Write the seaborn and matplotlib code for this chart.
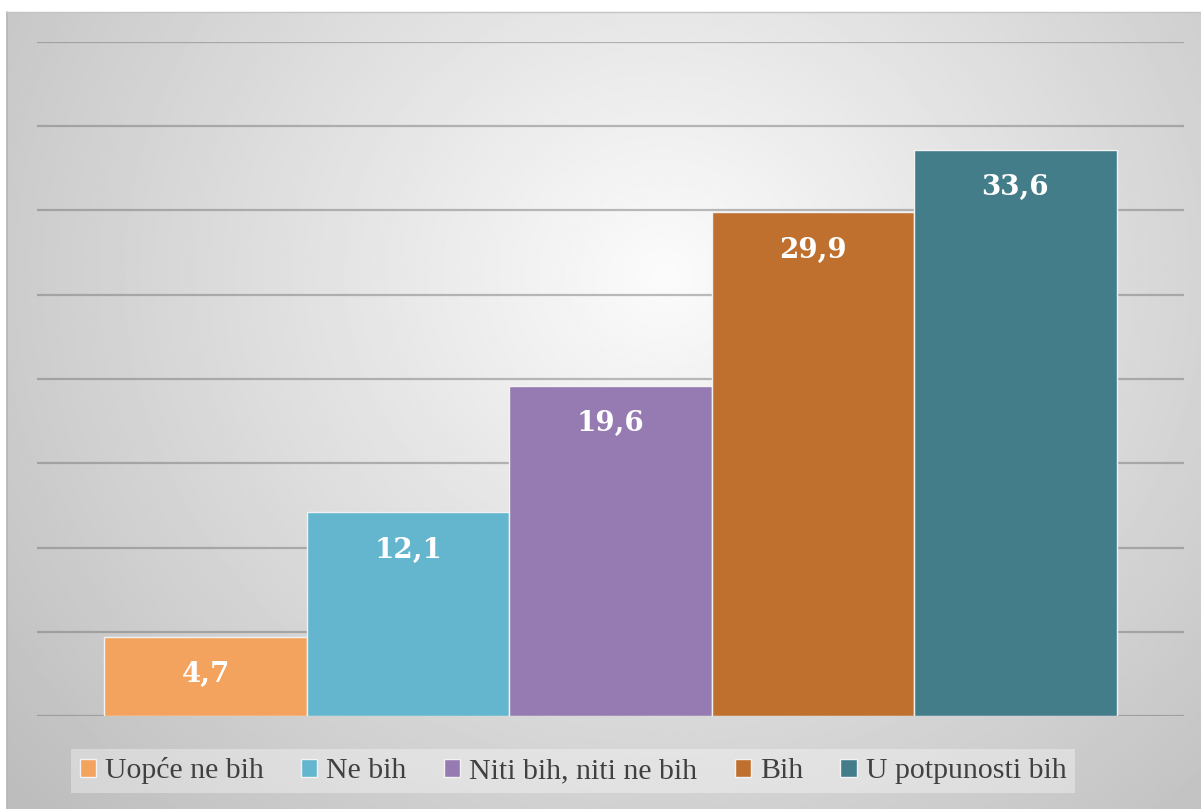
import numpy as np
import pandas as pd
import seaborn as sns
import matplotlib.pyplot as plt
from matplotlib.patches import Patch

# data
categories = ["Uopće ne bih", "Ne bih", "Niti bih, niti ne bih", "Bih", "U potpunosti bih"]
values = [4.7, 12.1, 19.6, 29.9, 33.6]
colors = ["#F4A35F", "#63B6CD", "#957BB1", "#C0702E", "#437D8A"]

df = pd.DataFrame({"cat": categories, "val": values})

sns.set_style("white")
plt.rcParams["font.family"] = ["Liberation Serif", "DejaVu Serif"]

W, H = 1201, 809
fig = plt.figure(figsize=(W / 100, H / 100), dpi=100)

# radial gradient background of the chart area
bg = fig.add_axes([7 / W, 0, (W - 7) / W, (H - 12) / H])
ny, nx = 400, 600
yy, xx = np.mgrid[0:ny, 0:nx]
cx, cy = 0.55 * nx, 0.33 * ny
r = np.sqrt(((xx - cx) / (0.62 * nx)) ** 2 + ((yy - cy) / (0.85 * ny)) ** 2)
grad = np.clip(0.985 - 0.21 * r, 0.74, 1.0)
bg.imshow(grad, cmap="gray", vmin=0, vmax=1, aspect="auto", interpolation="bilinear")
bg.set_axis_off()
fig.add_artist(plt.Line2D([7 / W, 7 / W], [0, (H - 12) / H], color="#b4b4b4", lw=1.2))
fig.add_artist(plt.Line2D([7 / W, 1], [(H - 12) / H, (H - 12) / H], color="#c4c4c4", lw=1.0))

# main axes
left, right = 37, 1184
top, bottom = 42, 716
ax = fig.add_axes([left / W, 1 - bottom / H, (right - left) / W, (bottom - top) / H])
ax.patch.set_alpha(0)

sns.barplot(data=df, x="cat", y="val", hue="cat", palette=colors, width=1.0,
            legend=False, edgecolor="#f2f2f2", linewidth=1.0, saturation=1, ax=ax, zorder=3)

ax.set_xlim(-0.833, 4.833)
ax.set_ylim(0, 40)
ax.set_yticks(np.arange(0, 41, 5))
ax.yaxis.grid(True, color="#6e6e6e", alpha=0.45, lw=1.6, zorder=0)
ax.set_axisbelow(True)
ax.tick_params(left=False, bottom=False, labelleft=False, labelbottom=False)
ax.set_xlabel("")
ax.set_ylabel("")
sns.despine(ax=ax, left=True, bottom=True, top=True, right=True)

for cont in ax.containers:
    labs = [f"{v:.1f}".replace(".", ",") for v in cont.datavalues]
    ax.bar_label(cont, labels=labs, padding=-37, color="white", fontsize=20,
                 fontweight="bold", family="DejaVu Serif")

handles = [Patch(facecolor=c, edgecolor="#f2f2f2", lw=1) for c in colors]
leg = fig.legend(handles, categories, loc="center", bbox_to_anchor=(573 / W, 1 - 771 / H),
                 ncol=5, frameon=True, fancybox=False, fontsize=21.5,
                 handlelength=0.55, handleheight=0.55, handletextpad=0.3,
                 columnspacing=1.25, borderpad=0.3, borderaxespad=0, labelcolor="#404040")
leg.get_frame().set_facecolor("white")
leg.get_frame().set_alpha(0.35)
leg.get_frame().set_edgecolor("none")

fig.savefig("out.png", dpi=100)
